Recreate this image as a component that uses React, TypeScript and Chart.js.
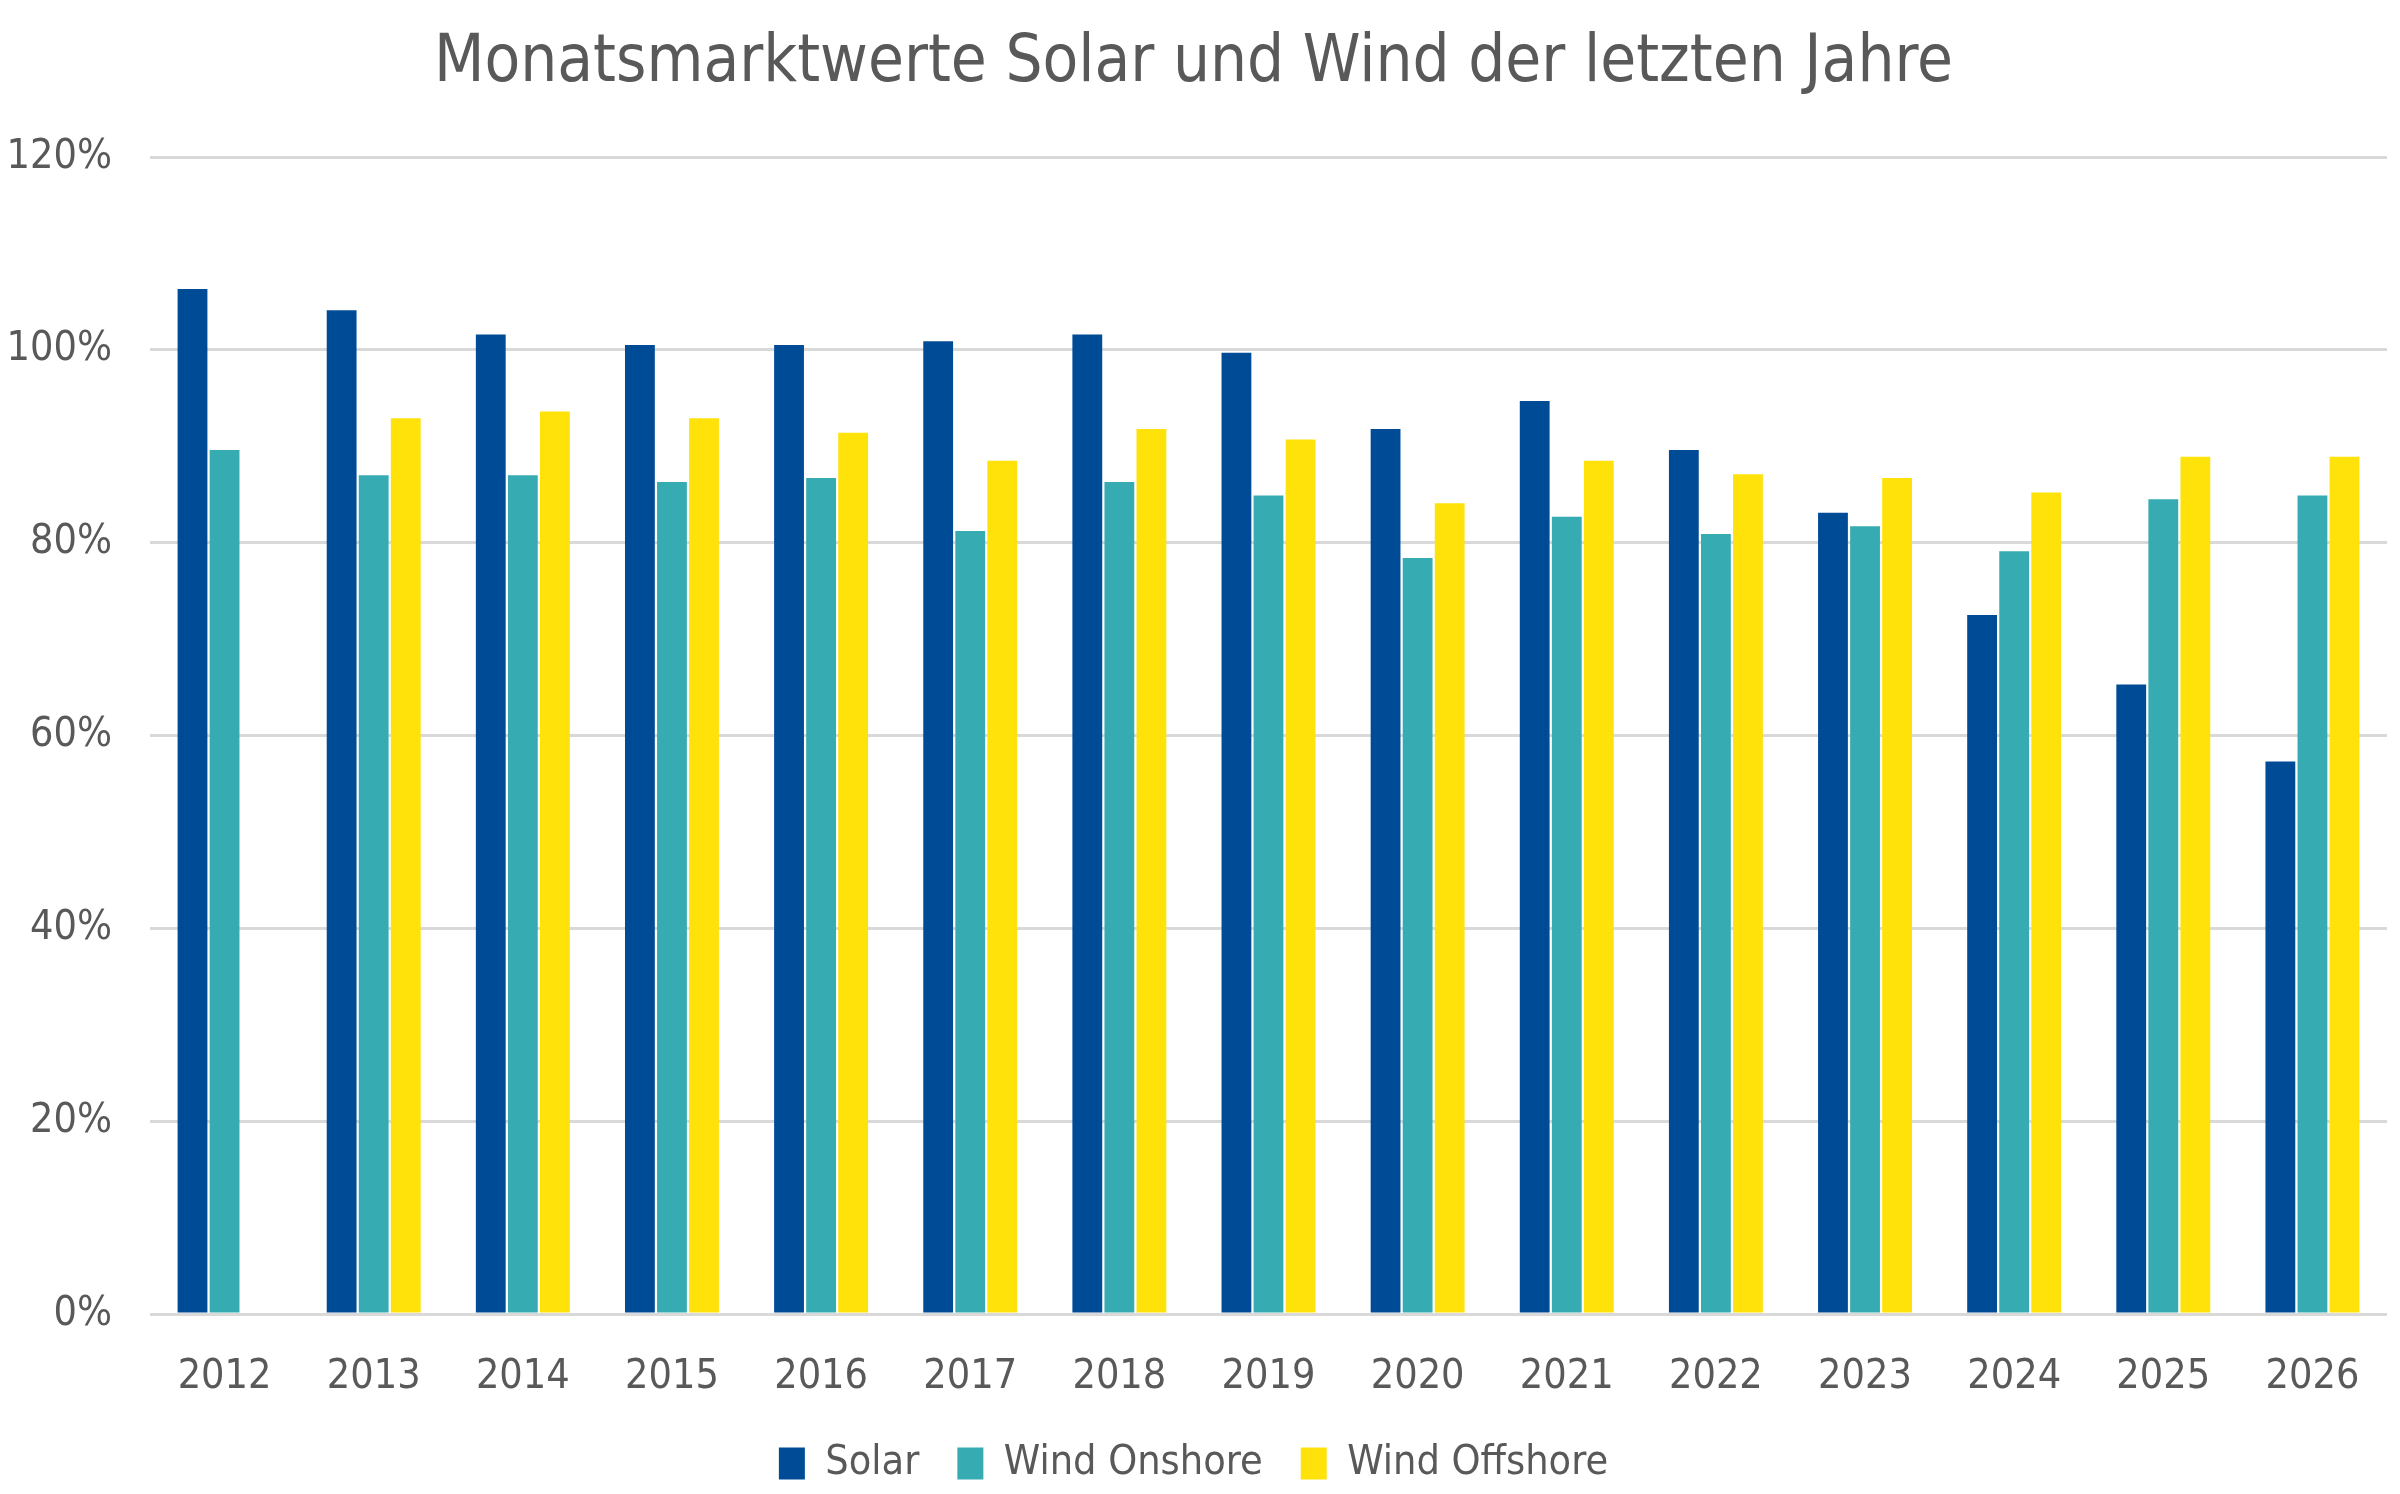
import { useEffect, useRef } from 'react';
import { Chart, registerables, ChartConfiguration } from 'chart.js';

Chart.register(...registerables);

// Jahre auf der x-Achse
const years = ['2012', '2013', '2014', '2015', '2016', '2017', '2018', '2019', '2020', '2021', '2022', '2023', '2024', '2025', '2026'];

// Marktwerte in Prozent
const solar = [106.3, 104.1, 101.6, 100.5, 100.5, 100.9, 101.6, 99.7, 91.8, 94.7, 89.6, 83.1, 72.5, 65.3, 57.3];
const windOnshore = [89.6, 87.0, 87.0, 86.3, 86.7, 81.2, 86.3, 84.9, 78.4, 82.7, 80.9, 81.7, 79.1, 84.5, 84.9];
const windOffshore = [null, 92.9, 93.6, 92.9, 91.4, 88.5, 91.8, 90.7, 84.1, 88.5, 87.1, 86.7, 85.2, 88.9, 88.9];

const seriesLabels = ['Solar', 'Wind Onshore', 'Wind Offshore'];
const yTicks = [0, 20, 40, 60, 80, 100, 120];

const FONT = '"DejaVu Sans Condensed", "DejaVu Sans", sans-serif';
const TEXT = '#595959';

const App: React.FC = () => {
  const canvasRef = useRef<HTMLCanvasElement>(null);
  const chartRef = useRef<Chart<'bar'> | null>(null);

  useEffect(() => {
    const ctx = canvasRef.current?.getContext('2d');
    if (!ctx || chartRef.current) return;

    const config: ChartConfiguration<'bar', (number | null)[], string> = {
      type: 'bar',
      data: {
        labels: years,
        datasets: [
          { label: seriesLabels[0], data: solar, backgroundColor: '#004B96' },
          { label: seriesLabels[1], data: windOnshore, backgroundColor: '#36ABB1' },
          { label: seriesLabels[2], data: windOffshore, backgroundColor: '#FFE20A' },
        ],
      },
      options: {
        animation: false,
        responsive: true,
        maintainAspectRatio: false,
        layout: { padding: { left: 0, right: 13, top: 0, bottom: 0 } },
        datasets: {
          bar: { barPercentage: 0.93, categoryPercentage: 0.645 },
        },
        plugins: {
          title: {
            display: true,
            text: 'Monatsmarktwerte Solar und Wind der letzten Jahre',
            color: TEXT,
            font: { family: FONT, size: 65, weight: 'normal' },
            padding: { top: 25, bottom: 54 },
          },
          legend: {
            position: 'bottom',
            labels: {
              color: TEXT,
              font: { family: FONT, size: 41 },
              boxWidth: 26,
              boxHeight: 32,
              padding: 38,
            },
          },
          tooltip: { enabled: false },
        },
        scales: {
          x: {
            grid: { display: false },
            border: { display: false },
            ticks: { color: TEXT, font: { family: FONT, size: 41 }, padding: 31 },
            afterFit: (scale) => {
              scale.height = 91;
            },
          },
          y: {
            min: yTicks[0],
            max: yTicks[yTicks.length - 1],
            afterBuildTicks: (scale) => {
              scale.ticks = yTicks.map((v) => ({ value: v }));
            },
            grid: { color: '#D9D9D9', lineWidth: 3, drawTicks: false },
            border: { display: false },
            ticks: {
              color: TEXT,
              font: { family: FONT, size: 41 },
              padding: 38,
              callback: (v) => `${v}%`,
            },
            afterFit: (scale) => {
              scale.width = 150;
            },
          },
        },
      },
    };

    chartRef.current = new Chart(ctx, config);

    return () => {
      chartRef.current?.destroy();
      chartRef.current = null;
    };
  }, []);

  return (
    <div style={{ position: 'fixed', left: 0, top: 0, width: 2400, height: 1494, background: '#fff' }}>
      <canvas ref={canvasRef} />
    </div>
  );
};

export default App;
